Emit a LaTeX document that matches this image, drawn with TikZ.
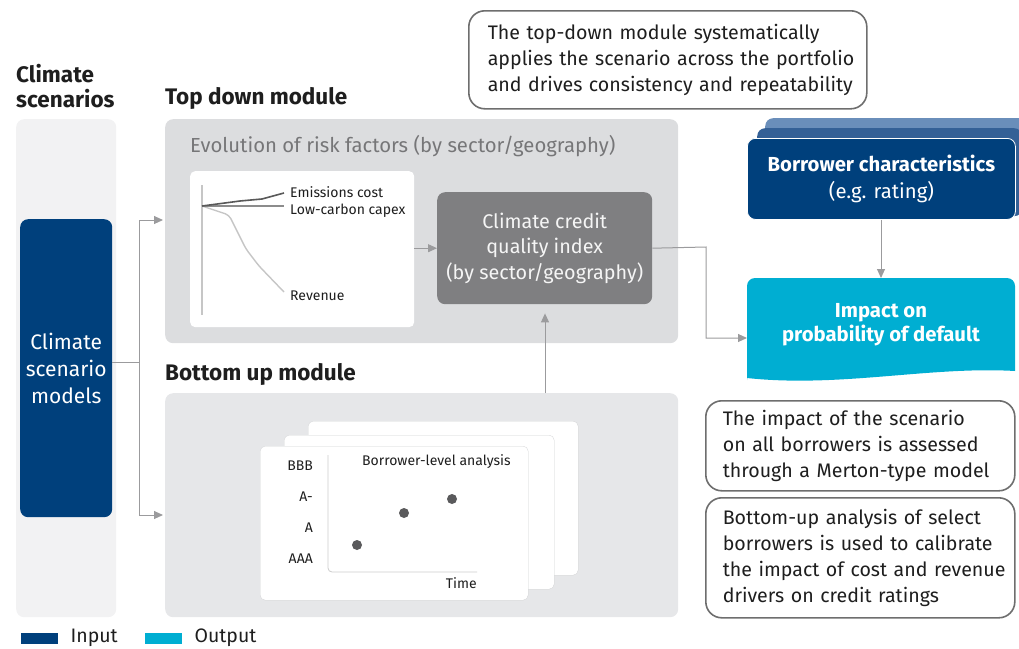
\documentclass[tikz,border=0pt]{standalone}
\usepackage{fontspec}
\setmainfont{Fira Sans}
\usetikzlibrary{arrows.meta}
\usetikzlibrary{positioning}

\definecolor{navy}{RGB}{0,64,124}
\definecolor{navymid}{RGB}{52,96,150}
\definecolor{navylight}{RGB}{106,142,186}
\definecolor{cyanout}{RGB}{0,174,210}
\definecolor{panelleft}{RGB}{242,242,243}
\definecolor{paneltop}{RGB}{220,221,223}
\definecolor{panelbot}{RGB}{230,231,233}
\definecolor{ccqigrey}{RGB}{127,127,129}
\definecolor{arrowgrey}{RGB}{155,155,157}
\definecolor{txtdark}{RGB}{30,30,30}
\definecolor{txtgrey}{RGB}{118,118,120}
\definecolor{calloutline}{RGB}{110,110,110}
\definecolor{dotgrey}{RGB}{90,90,92}

\newcommand{\noteline}[1]{\mbox{#1}}

\tikzset{
  panel/.style={fill=#1, rounded corners=8pt, anchor=north west, inner sep=0pt},
  heading/.style={anchor=west, font=\fontsize{22.5}{25}\selectfont\bfseries, text=txtdark, align=left, inner sep=0pt},
  callout/.style={draw=calloutline, line width=1.6pt, fill=white, rounded corners=16pt, anchor=north west,
    align=left, font=\fontsize{19.6}{26}\selectfont, text=txtdark, inner xsep=#1, inner ysep=0pt},
  conn/.style={draw=arrowgrey, line width=1pt},
  arr/.style={conn, -{Triangle[length=9pt,width=8pt]}},
  small/.style={font=\fontsize{14}{16}\selectfont, text=txtdark, inner sep=0pt},
  card/.style={fill=white, rounded corners=5pt, anchor=north west, inner sep=0pt, draw=panelbot!80!gray, line width=0.3pt}
}

\begin{document}
\begin{tikzpicture}[x=1pt,y=-1pt]
 \useasboundingbox (0,0) rectangle (1019,648);

 % headings
 \node[heading] (hscen) at (16,86) {Climate\\scenarios};
 \node[heading] (htop) at (165,98) {Top down module};
 \node[heading] (hbot) at (165,374) {Bottom up module};

 % panels
 \node[panel=panelleft, minimum width=100pt, minimum height=498pt] (pscen) at (16,119) {};
 \node[panel=paneltop, minimum width=513pt, minimum height=224pt] (ptop) at (165,119) {};
 \node[panel=panelbot, minimum width=513pt, minimum height=224pt] (pbot) at (165,393) {};

 \node[panel=navy, minimum width=92pt, minimum height=298pt, text=white, align=center,
   font=\fontsize{21}{27}\selectfont] (csm) at (20,219) {Climate\\scenario\\models};

 % top down module
 \node[anchor=west, inner sep=0pt, text=txtgrey, font=\fontsize{20.3}{22}\selectfont] (evol) at (190,146)
   {Evolution of risk factors (by sector/geography)};
 \node[card, draw=none, minimum width=224pt, minimum height=156pt] (chart) at (190,171) {};
 \coordinate (orig) at (202,206);
 \draw[gray!45, line width=1.4pt] (202,185) -- (202,315);
 \node[small, anchor=west] (emis) at (290,192) {Emissions cost};
 \node[small, anchor=west] (capex) at (290,211) {Low-carbon capex};
 \node[small, anchor=west] (rev) at (290,296) {Revenue};
 \draw[gray!45, line width=1.4pt, rounded corners=4pt] (orig) -- (229,215) -- (246,249) -- (259,266) -- (284,292);
 \draw[gray!90, line width=1.4pt] (orig) -- (284,206);
 \draw[black!65, line width=1.6pt] (orig) -- (240,201) -- (262,199) -- (284,193);

 \node[panel=ccqigrey, minimum width=215pt, minimum height=112pt, text=white!92!gray, align=center,
   font=\fontsize{19.8}{25.5}\selectfont] (ccqi) at (437,192)
   {Climate credit\\quality index\\(by sector/geography)};
 \draw[arr] (chart.east |- ccqi.west) -- (ccqi.west);

 % bottom up module
 \node[card, minimum width=270pt, minimum height=154pt] (card3) at (308,421) {};
 \node[card, minimum width=270pt, minimum height=154pt] (card2) at (284,435) {};
 \node[card, minimum width=268pt, minimum height=154pt] (card1) at (260,446) {};
 \node[small, anchor=east] (rbbb) at (313,466) {BBB};
 \node[small, anchor=east] (ramin) at (313,497) {A-};
 \node[small, anchor=east] (ra) at (313,528) {A};
 \node[small, anchor=east] (raaa) at (313,559) {AAA};
 \draw[gray!40, line width=0.8pt, rounded corners=4pt] (328,455) -- (328,572) -- (477,572);
 \node[small, anchor=west] (blevel) at (362,462) {Borrower-level analysis};
 \node[small, anchor=east] (time) at (477,583) {Time};
 \node[circle, fill=dotgrey, inner sep=0pt, minimum size=10pt] (dot1) at (357,545) {};
 \node[circle, fill=dotgrey, inner sep=0pt, minimum size=10pt] (dot2) at (404,513) {};
 \node[circle, fill=dotgrey, inner sep=0pt, minimum size=10pt] (dot3) at (452,499) {};

 % connectors from scenarios
 \coordinate (split) at (139,362);
 \coordinate (topin) at (163,220);
 \coordinate (botin) at (163,515);
 \draw[conn] (csm.east |- split) -- (split);
 \draw[arr] (split) |- (topin);
 \draw[arr] (split) |- (botin);
 \draw[arr, shorten >=9pt] (pbot.north -| 545,0) -- (ccqi.south -| 545,0);

 % borrower characteristics and output
 \node[panel=navylight, minimum width=265pt, minimum height=90pt] (bc3) at (765,118) {};
 \node[panel=navymid, minimum width=265pt, minimum height=88pt] (bc2) at (757,128) {};
 \node[panel=navy, draw=white, line width=0.8pt, minimum width=268pt, minimum height=81pt, text=white, align=center,
   font=\fontsize{20.3}{27}\selectfont] (bc) at (747,138)
   {\textbf{Borrower characteristics}\\(e.g. rating)};

 \fill[cyanout, rounded corners=8pt] (747,380) -- (747,278) -- (1015,278) -- (1015,371) [sharp corners] -- (1015,371)
   .. controls (930,366) and (840,388) .. (747,378) -- cycle;
 \node[inner sep=0pt, text=white, align=center, font=\fontsize{20.3}{24}\selectfont\bfseries] (impact) at (881,325)
   {Impact on\\probability of default};
 \coordinate (impin) at (747,338);
 \coordinate (imptop) at (881,278);
 \draw[arr] (ccqi.east) -- (706,247) |- (impin);
 \draw[arr] (bc.south -| imptop) -- (imptop);

 % callouts
 \node[callout=19pt, text width=360pt, minimum height=98pt] (note1) at (468,10)
   {\noteline{The top-down module systematically}\\\noteline{applies the scenario across the portfolio}\\\noteline{and drives consistency and repeatability}};
 \node[callout=17pt, text width=275pt, minimum height=90pt] (note2) at (705,400)
   {\noteline{The impact of the scenario}\\\noteline{on all borrowers is assessed}\\\noteline{through a Merton-type model}};
 \node[callout=17pt, text width=275pt, minimum height=120pt] (note3) at (705,497)
   {\noteline{Bottom-up analysis of select}\\\noteline{borrowers is used to calibrate}\\\noteline{the impact of cost and revenue}\\\noteline{drivers on credit ratings}};

 % legend
 \node[fill=navy, minimum width=37pt, minimum height=11pt, inner sep=0pt, anchor=west] (legin) at (21,638) {};
 \node[right=12pt of legin, inner sep=0pt, text=txtdark, font=\fontsize{19.5}{22}\selectfont] (legintxt) {Input};
 \node[fill=cyanout, minimum width=37pt, minimum height=11pt, inner sep=0pt, anchor=west] (legout) at (145,638) {};
 \node[right=12pt of legout, inner sep=0pt, text=txtdark, font=\fontsize{19.5}{22}\selectfont] (legouttxt) {Output};
\end{tikzpicture}
\end{document}
